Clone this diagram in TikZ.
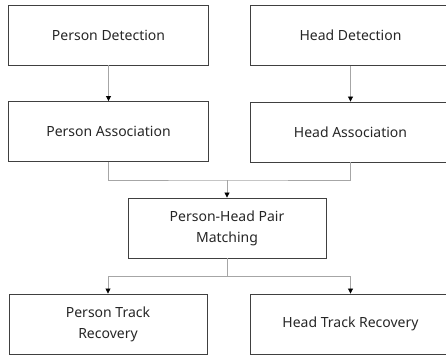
\documentclass[tikz,border=0pt]{standalone}
\usepackage{fontspec}
\setmainfont{Noto Sans}
\usetikzlibrary{arrows.meta}

\begin{document}
\begin{tikzpicture}
  [x=1pt, y=-1pt,
   every node/.style={draw=black!75, line width=0.9pt, text=black!85,
     minimum width=200pt, minimum height=60pt, align=center,
     font=\fontsize{14}{21}\selectfont},
   link/.style={draw=black!35, line width=0.8pt},
   arr/.style={link, -{Triangle[black, length=5pt, width=5pt]}}]
  \useasboundingbox (0,0) rectangle (446,356);
  % top row
  \node (pdet) at (108.5,35) {Person Detection};
  \node (hdet) at (350.5,35.5) {Head Detection};
  \node (pass) at (108.5,131.5) {Person Association};
  \node (hass) at (350.5,132) {Head Association};
  % merge
  \node (match) at (227,228) [minimum width=198pt] {Person-Head Pair\\Matching};
  % bottom row
  \node (ptrack) at (108,324) [minimum width=198pt] {Person Track\\Recovery};
  \node (htrack) at (350.5,324) {Head Track Recovery};

  \coordinate (join) at (227,180);
  \coordinate (split) at (227,276);
  \draw[arr] (pdet) -- (pass);
  \draw[arr] (hdet) -- (hass);
  \draw[link] (pass.south) |- (join) -| (hass.south);
  \draw[arr] (join) -- (match);
  \draw[link] (match) -- (split);
  \draw[arr] (split) -| (ptrack);
  \draw[arr] (split) -| (htrack);
\end{tikzpicture}
\end{document}
